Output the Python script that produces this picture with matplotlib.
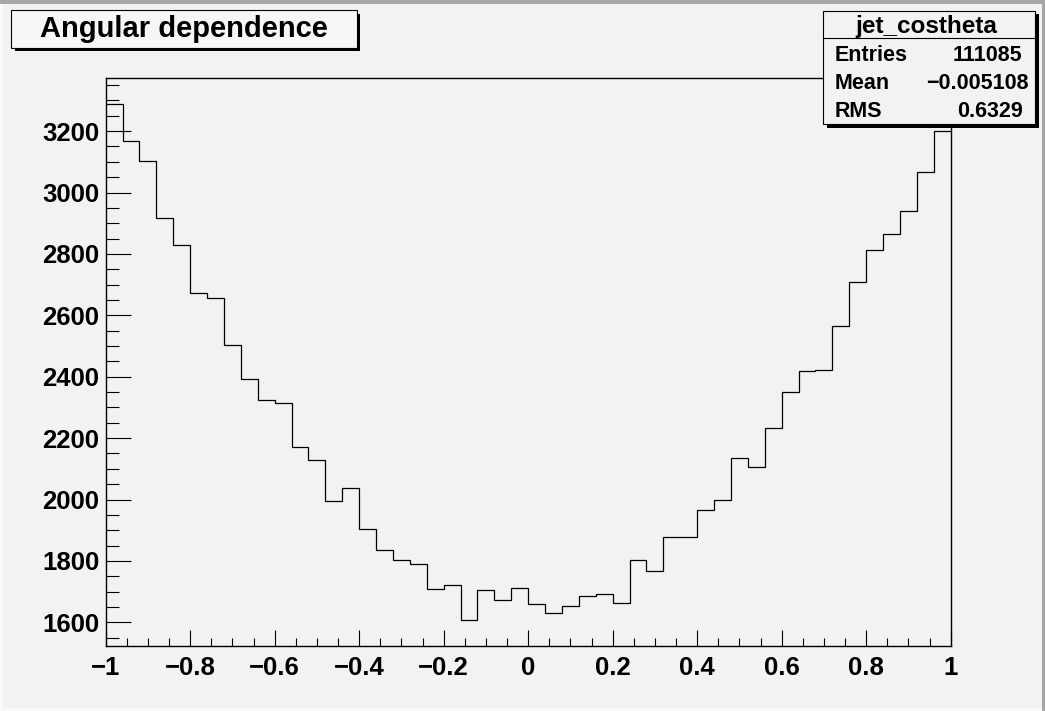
import numpy as np
import matplotlib
matplotlib.use("Agg")
import matplotlib.pyplot as plt
from matplotlib.patches import Rectangle
from matplotlib.lines import Line2D
from matplotlib.ticker import FixedLocator, MultipleLocator

# histogram "jet_costheta": 50 bins in [-1, 1]
x_min, x_max, n_bins = -1.0, 1.0, 50
counts = [3288, 3167, 3103, 2916, 2830, 2674, 2656, 2503, 2394, 2323,
          2315, 2170, 2129, 1994, 2037, 1903, 1837, 1803, 1789, 1708,
          1722, 1607, 1705, 1673, 1711, 1661, 1632, 1652, 1687, 1692,
          1664, 1804, 1768, 1877, 1878, 1966, 1998, 2136, 2105, 2232,
          2349, 2420, 2423, 2566, 2708, 2812, 2864, 2939, 3066, 3200]
x_ticks = [-1, -0.8, -0.6, -0.4, -0.2, 0, 0.2, 0.4, 0.6, 0.8, 1]
x_labels = ["\u22121", "\u22120.8", "\u22120.6", "\u22120.4", "\u22120.2", "0",
            "0.2", "0.4", "0.6", "0.8", "1"]
y_ticks = [1600, 1800, 2000, 2200, 2400, 2600, 2800, 3000, 3200]
title = "Angular dependence"
stats_name = "jet_costheta"
stats_rows = [("Entries", "111085"), ("Mean", "\u22120.005108"), ("RMS", "0.6329")]

W, H = 1045, 711
bg = "#f2f2f2"
plt.rcParams["font.family"] = ["Liberation Sans", "DejaVu Sans"]
plt.rcParams["font.weight"] = "bold"

fig = plt.figure(figsize=(W / 100, H / 100), dpi=100, facecolor=bg)

def fx(px):
    return px / W

def fy(py):
    return 1 - py / H

# frame of the pad, in pixels
left, right, top, bottom = 105.7, 950.7, 77.7, 646.0
ax = fig.add_axes([fx(left), fy(bottom), fx(right - left), (bottom - top) / H])
ax.set_facecolor(bg)

edges = np.linspace(x_min, x_max, n_bins + 1)
ax.stairs(counts, edges, baseline=None, color="black", lw=0.9)

ax.set_xlim(x_min, x_max)
ax.set_ylim(1523, 3374)

ax.xaxis.set_major_locator(FixedLocator(x_ticks))
ax.set_xticklabels(x_labels)
ax.xaxis.set_minor_locator(MultipleLocator(0.05))
ax.yaxis.set_major_locator(FixedLocator(y_ticks))
ax.yaxis.set_minor_locator(MultipleLocator(50))

ax.tick_params(axis="x", which="major", direction="in", length=11.5, width=0.8,
               labelsize=18.5, pad=7.0)
ax.tick_params(axis="x", which="minor", direction="in", length=5.5, width=0.8)
ax.tick_params(axis="y", which="major", direction="in", length=18, width=0.8,
               labelsize=18.5, pad=4.5)
ax.tick_params(axis="y", which="minor", direction="in", length=9, width=0.8)
for lab in ax.get_xticklabels() + ax.get_yticklabels():
    lab.set_fontweight("bold")
for s in ax.spines.values():
    s.set_linewidth(1.0)

# canvas bevel
fig.add_artist(Rectangle((0, fy(4)), 1, 4 / H, transform=fig.transFigure,
                         facecolor="#a6a6a6", edgecolor="none", zorder=5))
fig.add_artist(Rectangle((fx(1041.5), 0), 3.5 / W, fy(1), transform=fig.transFigure,
                         facecolor="#a6a6a6", edgecolor="none", zorder=5))
fig.add_artist(Rectangle((0, 0), 3 / W, fy(4), transform=fig.transFigure,
                         facecolor="#fafafa", edgecolor="none", zorder=5))
fig.add_artist(Rectangle((fx(3), 0), fx(1038.5), 3 / H, transform=fig.transFigure,
                         facecolor="#fafafa", edgecolor="none", zorder=5))


def box(x0, y0, x1, y1, fc, sh=3.5):
    fig.add_artist(Rectangle((fx(x0 + sh), fy(y1 + sh)), fx(x1 - x0), (y1 - y0) / H,
                             transform=fig.transFigure, facecolor="black",
                             edgecolor="none", zorder=6))
    fig.add_artist(Rectangle((fx(x0), fy(y1)), fx(x1 - x0), (y1 - y0) / H,
                             transform=fig.transFigure, facecolor=fc,
                             edgecolor="black", lw=0.8, zorder=7))


# title box
box(11, 10, 356.7, 47.7, "#f6f6f6")
fig.text(fx(184), fy(36.7), title, ha="center", va="baseline",
         fontsize=21, fontweight="bold", zorder=8)

# stats box
box(823.3, 10.7, 1035, 124, bg)
fig.add_artist(Line2D([fx(823.3), fx(1035)], [fy(38.3), fy(38.3)],
                      transform=fig.transFigure, color="black", lw=0.8, zorder=8))
fig.text(fx(926), fy(33.3), stats_name, ha="center", va="baseline",
         fontsize=17.5, fontweight="bold", zorder=8)
row_base = [61, 89.3, 117.3]
row_right = [1022.7, 1029, 1022.7]
for (name, val), yb, xr in zip(stats_rows, row_base, row_right):
    fig.text(fx(834.3), fy(yb), name, ha="left", va="baseline",
             fontsize=15.5, fontweight="bold", zorder=8)
    fig.text(fx(xr), fy(yb), val, ha="right", va="baseline",
             fontsize=15.5, fontweight="bold", zorder=8)

fig.savefig("out.png", dpi=100, facecolor=bg)
